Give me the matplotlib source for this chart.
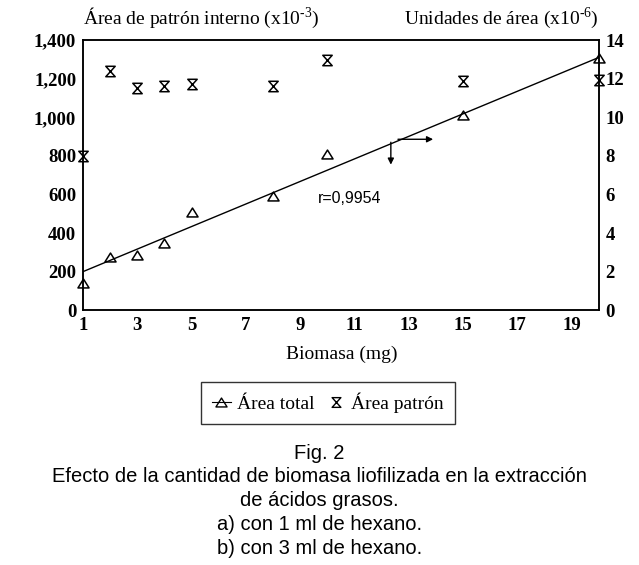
"""Fig. 2: efecto de la cantidad de biomasa liofilizada (area total vs patron interno)."""

import matplotlib
matplotlib.use("Agg")
import matplotlib.pyplot as plt
from matplotlib.path import Path

biomasa = [1, 2, 3, 4, 5, 8, 10, 15, 20]
area_total = [1.4, 2.75, 2.85, 3.5, 5.1, 5.9, 8.1, 10.1, 13.05]      # x10^-6
area_patron = [800, 1240, 1150, 1160, 1175, 1160, 1295, 1190, 1195]  # x10^-3
fit_x = [1, 20]
fit_y = [2.0, 13.1]

left_ticks = [0, 200, 400, 600, 800, 1000, 1200, 1400]
right_ticks = [0, 2, 4, 6, 8, 10, 12, 14]
x_ticks = [1, 3, 5, 7, 9, 11, 13, 15, 17, 19]

caption = [
    "Fig. 2",
    "Efecto de la cantidad de biomasa liofilizada en la extracción",
    "de ácidos grasos.",
    "a) con 1 ml de hexano.",
    "b) con 3 ml de hexano.",
]

plt.rcParams["font.family"] = "Liberation Serif"
plt.rcParams["mathtext.fontset"] = "custom"
plt.rcParams["mathtext.rm"] = "Liberation Serif"

hourglass = Path([(-0.45, 0.5), (0.45, 0.5), (-0.45, -0.5), (0.45, -0.5), (-0.45, 0.5)],
                 [Path.MOVETO, Path.LINETO, Path.LINETO, Path.LINETO, Path.CLOSEPOLY])
triangle = Path([(-0.5, -0.4), (0.5, -0.4), (0.0, 0.4), (-0.5, -0.4)],
                [Path.MOVETO, Path.LINETO, Path.LINETO, Path.CLOSEPOLY])

fig = plt.figure(figsize=(6.39, 5.65), dpi=100)
ax = fig.add_axes([0.130, 0.451, 0.807, 0.478])
ax2 = ax.twinx()

ax.set_xlim(1, 20)
ax.set_ylim(0, 1400)
ax2.set_ylim(0, 14)

ax.set_xticks(x_ticks)
ax.set_yticks(left_ticks)
ax.set_yticklabels([f"{v:,}" for v in left_ticks])
ax2.set_yticks(right_ticks)
for a in (ax, ax2):
    a.tick_params(length=0, labelsize=13.5, pad=5)
    for lab in a.get_xticklabels() + a.get_yticklabels():
        lab.set_fontweight("bold")
    for sp in a.spines.values():
        sp.set_linewidth(1.1)

ax.plot(biomasa, area_patron, linestyle="none", marker=hourglass, markersize=7.5,
        markerfacecolor="none", markeredgecolor="black", markeredgewidth=1.1,
        clip_on=False)
ax2.plot(fit_x, fit_y, color="black", linewidth=1.0)
ax2.plot(biomasa, area_total, linestyle="none", marker=triangle, markersize=8,
         markerfacecolor="none", markeredgecolor="black", markeredgewidth=1.1,
         clip_on=False)

# arrows showing which axis the fit line belongs to
ax2.annotate("", xy=(12.34, 7.4), xytext=(12.34, 8.85),
             arrowprops=dict(arrowstyle="-|>", color="black", lw=1.0, mutation_scale=9))
ax2.annotate("", xy=(14.0, 8.86), xytext=(12.5, 8.86),
             arrowprops=dict(arrowstyle="-|>", color="black", lw=1.0, mutation_scale=9))
ax2.text(9.65, 5.8, "r=0,9954", family="Liberation Sans", fontsize=11.5, ha="left", va="center")

fig.text(0.130, 0.968, "Área de patrón interno (x10$^{\u2010\\mathrm{3}}$)", fontsize=14, ha="left", va="center")
fig.text(0.937, 0.968, "Unidades de área (x10$^{\u2010\\mathrm{6}}$)", fontsize=14, ha="right", va="center")
fig.text(0.535, 0.372, "Biomasa (mg)", fontsize=14, ha="center", va="center")

# legend
h1, = ax.plot([], [], color="black", linewidth=0.8, marker=triangle, markersize=8,
              markerfacecolor="none", markeredgecolor="black")
h2, = ax.plot([], [], linestyle="none", marker=hourglass, markersize=7,
              markerfacecolor="none", markeredgecolor="black")
leg = fig.legend([h1, h2], ["Área total", "Área patrón"], loc="center",
                 bbox_to_anchor=(0.513, 0.287), ncol=2, fontsize=14, frameon=True,
                 fancybox=False, edgecolor="black", handlelength=1.0, handletextpad=0.3,
                 columnspacing=0.6, borderpad=0.55)
leg.get_frame().set_linewidth(1.0)

for i, line in enumerate(caption):
    fig.text(0.500, 0.198 - i * 0.042, line, family="Liberation Sans", fontsize=14.5,
             ha="center", va="center")

fig.savefig("out.png", dpi=100)
